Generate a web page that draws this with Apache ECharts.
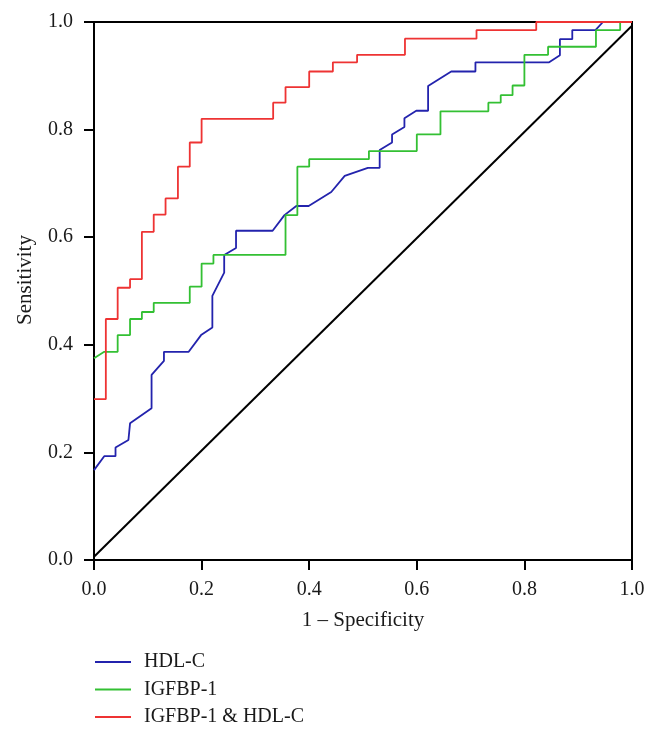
<!DOCTYPE html>
<html><head><meta charset="utf-8">
<script src="https://cdn.jsdelivr.net/npm/echarts@6/dist/echarts.min.js"></script>
<style>html,body{margin:0;padding:0;background:#fff}#c{width:657px;height:736px}</style>
</head><body><div id="c"></div>
<script>
// ROC curve vertices (x = 1 - specificity, y = sensitivity)
const hdlX = [0, 0.019, 0.04, 0.04, 0.064, 0.067, 0.107, 0.107, 0.13, 0.13, 0.176, 0.199, 0.22, 0.22, 0.242, 0.242, 0.264, 0.264, 0.332, 0.354, 0.376, 0.399, 0.441, 0.466, 0.509, 0.531, 0.531, 0.554, 0.554, 0.577, 0.577, 0.599, 0.621, 0.621, 0.664, 0.709, 0.709, 0.846, 0.866, 0.866, 0.889, 0.889, 0.932, 0.946, 1];
const hdlY = [0.167, 0.193, 0.193, 0.209, 0.223, 0.254, 0.282, 0.344, 0.370, 0.387, 0.387, 0.418, 0.432, 0.491, 0.534, 0.567, 0.580, 0.612, 0.612, 0.641, 0.658, 0.658, 0.684, 0.714, 0.729, 0.729, 0.762, 0.776, 0.791, 0.805, 0.821, 0.835, 0.835, 0.881, 0.908, 0.908, 0.925, 0.925, 0.938, 0.968, 0.968, 0.985, 0.985, 1, 1];

const igfX = [0, 0.019, 0.044, 0.044, 0.067, 0.067, 0.089, 0.089, 0.111, 0.111, 0.178, 0.178, 0.2, 0.2, 0.222, 0.222, 0.356, 0.356, 0.378, 0.378, 0.4, 0.4, 0.511, 0.511, 0.6, 0.6, 0.644, 0.644, 0.733, 0.733, 0.756, 0.756, 0.778, 0.778, 0.8, 0.8, 0.844, 0.844, 0.933, 0.933, 0.978, 0.978, 1];
const igfY = [0.375, 0.387, 0.387, 0.418, 0.418, 0.448, 0.448, 0.461, 0.461, 0.478, 0.478, 0.508, 0.508, 0.551, 0.551, 0.567, 0.567, 0.641, 0.641, 0.731, 0.731, 0.745, 0.745, 0.760, 0.760, 0.791, 0.791, 0.834, 0.834, 0.850, 0.850, 0.864, 0.864, 0.882, 0.882, 0.939, 0.939, 0.954, 0.954, 0.985, 0.985, 1, 1];

const combX = [0, 0.022, 0.022, 0.044, 0.044, 0.067, 0.067, 0.089, 0.089, 0.111, 0.111, 0.133, 0.133, 0.156, 0.156, 0.178, 0.178, 0.2, 0.2, 0.333, 0.333, 0.356, 0.356, 0.4, 0.4, 0.444, 0.444, 0.489, 0.489, 0.578, 0.578, 0.711, 0.711, 0.822, 0.822, 1];
const combY = [0.299, 0.299, 0.448, 0.448, 0.506, 0.506, 0.522, 0.522, 0.610, 0.610, 0.642, 0.642, 0.672, 0.672, 0.731, 0.731, 0.776, 0.776, 0.820, 0.820, 0.850, 0.850, 0.879, 0.879, 0.908, 0.908, 0.925, 0.925, 0.939, 0.939, 0.969, 0.969, 0.985, 0.985, 1, 1];

const refX = [0, 1];
const refY = [0.006, 0.993];

const seriesNames = ['HDL-C', 'IGFBP-1', 'IGFBP-1 & HDL-C'];
const axisTicks = [0, 0.2, 0.4, 0.6, 0.8, 1.0];

const zip = (xs, ys) => xs.map((x, i) => [x, ys[i]]);
const FONT = 'Liberation Serif';
const TXT = '#1a1a1a';

const chart = echarts.init(document.getElementById('c'), null, {renderer: 'canvas'});
const axisCommon = {
  type: 'value', min: axisTicks[0], max: axisTicks[axisTicks.length - 1], interval: 0.2,
  axisLine: {show: true, lineStyle: {color: '#000', width: 2}},
  axisTick: {show: true, inside: false, length: 10, lineStyle: {color: '#000', width: 2}},
  splitLine: {show: false},
  axisLabel: {fontFamily: FONT, fontSize: 20, color: TXT, formatter: v => v.toFixed(1)},
  nameLocation: 'middle',
  nameTextStyle: {fontFamily: FONT, fontSize: 21, color: TXT}
};
chart.setOption({
  animation: false,
  backgroundColor: '#fff',
  grid: {left: 94, right: 25, top: 22, bottom: 176, show: true, borderColor: '#000', borderWidth: 2},
  xAxis: Object.assign({}, axisCommon, {
    name: '1 \u2013 Specificity', nameGap: 50,
    axisLabel: Object.assign({}, axisCommon.axisLabel, {margin: 20})
  }),
  yAxis: Object.assign({}, axisCommon, {
    name: 'Sensitivity', nameGap: 58,
    nameTextStyle: Object.assign({}, axisCommon.nameTextStyle, {padding: [0, 0, 0, 22]}),
    axisLabel: Object.assign({}, axisCommon.axisLabel, {margin: 21})
  }),
  legend: {
    orient: 'vertical', left: 95, top: 651, itemGap: 5.5, padding: 0, height: 90,
    icon: 'rect', itemWidth: 36, itemHeight: 2,
    data: seriesNames,
    textStyle: {fontFamily: FONT, fontSize: 20, color: TXT, lineHeight: 22, padding: [0, 0, 0, 8]}
  },
  series: [
    {type: 'line', name: 'ref', data: zip(refX, refY), showSymbol: false, silent: true,
     lineStyle: {color: '#000', width: 2}, z: 1},
    {type: 'line', name: seriesNames[0], data: zip(hdlX, hdlY), showSymbol: false,
     itemStyle: {color: '#2323ad'}, lineStyle: {color: '#2323ad', width: 1.8}, z: 2},
    {type: 'line', name: seriesNames[1], data: zip(igfX, igfY), showSymbol: false,
     itemStyle: {color: '#33c033'}, lineStyle: {color: '#33c033', width: 1.8}, z: 3},
    {type: 'line', name: seriesNames[2], data: zip(combX, combY), showSymbol: false,
     itemStyle: {color: '#ee3333'}, lineStyle: {color: '#ee3333', width: 1.8}, z: 4}
  ]
});
</script></body></html>
